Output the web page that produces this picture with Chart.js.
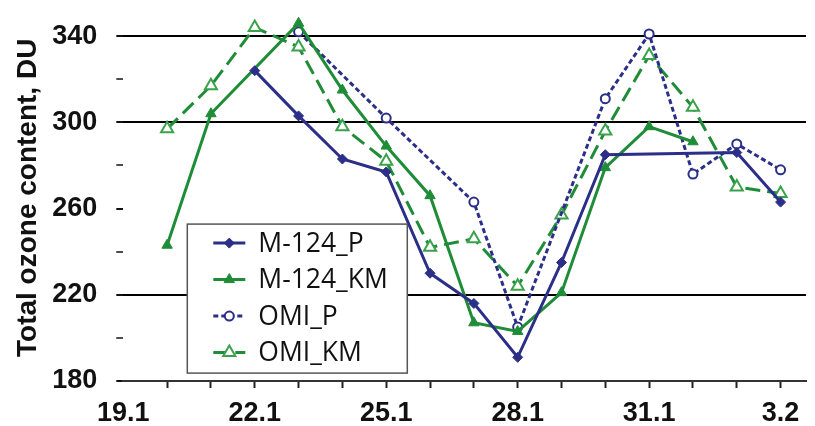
<!DOCTYPE html>
<html lang="en">
<head>
<meta charset="UTF-8">
<title>Total ozone content</title>
<script src="https://cdn.jsdelivr.net/npm/chart.js@4.4.1/dist/chart.umd.min.js"></script>
<style>
  html, body { margin: 0; padding: 0; background: #fff; }
  #wrap { width: 815px; height: 426px; }
</style>
</head>
<body>
<div id="wrap"><canvas id="myChart"></canvas></div>
<script>
// days on the x axis, values in DU (null = no measurement)
const days   = ['19.1','20.1','21.1','22.1','23.1','24.1','25.1','26.1','27.1','28.1','29.1','30.1','31.1','1.2','2.2','3.2'];
const m124P  = [null, null, null, 324, 303, 283, 277, 230, 216, 191, 235, 285, null, null, 286, 263];
const m124KM = [null, 243, 304, null, 346, 315, 289, 266, 207, 203, 221, 279, 298, 291, null, null];
const omiP   = [null, null, null, null, 342, null, 302, null, 263, 205, null, 311, 341, 276, 290, 278];
const omiKM  = [null, 297, 317, 344, 335, 298, 282, 242, 246, 224, 257, 296, 331, 307, 270, 267];
const yLabels = [180, 220, 260, 300, 340];
const yGridLines = [220, 300, 340];
const xLabelEvery = 3;

const navy = '#2b2f88';
const green = '#1f8c37';
const tickFont = { family: "'Liberation Sans', Arial, sans-serif", size: 27, weight: 'bold' };

function pts(arr) {
    return arr.map((v, i) => ({ x: i, y: v }));
}

// legend drawn as a white box inside the plot
const boxLegend = {
    id: 'boxLegend',
    afterDatasetsDraw(chart) {
        const ctx = chart.ctx;
        const a = chart.chartArea;
        const x0 = a.left + 64, y0 = a.top + 209.5, w = 220, h = 149;
        ctx.save();
        ctx.fillStyle = '#fff';
        ctx.fillRect(x0, y0, w, h);
        ctx.strokeStyle = '#555';
        ctx.lineWidth = 1.5;
        ctx.strokeRect(x0, y0, w, h);
        chart.data.datasets.forEach((ds, i) => {
            const y = y0 + 19 + i * 36.5;
            ctx.setLineDash(ds.borderDash || []);
            ctx.strokeStyle = ds.borderColor;
            ctx.lineWidth = ds.borderWidth;
            ctx.beginPath();
            ctx.moveTo(x0 + 26, y);
            ctx.lineTo(x0 + 58, y);
            ctx.stroke();
            ctx.setLineDash([]);
            ctx.fillStyle = ds.pointBackgroundColor;
            ctx.strokeStyle = ds.pointBorderColor;
            ctx.lineWidth = ds.pointBorderWidth;
            Chart.helpers.drawPoint(ctx, {
                pointStyle: ds.pointStyle,
                radius: ds.pointRadius,
                rotation: 0,
                borderWidth: ds.pointBorderWidth
            }, x0 + 42, y);
            ctx.fillStyle = '#111';
            ctx.font = "26.5px 'Open Sans', sans-serif";
            ctx.textBaseline = 'middle';
            ctx.fillText(ds.label, x0 + 71, y + 1);
        });
        ctx.restore();
    }
};

let ctx = document.getElementById('myChart').getContext('2d');
let myChart = new Chart(ctx, {
    type: 'line',
    data: {
        datasets: [{
            label: 'M-124_P',
            data: pts(m124P),
            borderColor: navy,
            borderWidth: 3,
            pointStyle: 'rectRot',
            pointRadius: 5,
            pointBackgroundColor: navy,
            pointBorderColor: navy,
            pointBorderWidth: 1
        }, {
            label: 'M-124_KM',
            data: pts(m124KM),
            borderColor: green,
            borderWidth: 3,
            pointStyle: 'triangle',
            pointRadius: 6,
            pointBackgroundColor: green,
            pointBorderColor: green,
            pointBorderWidth: 1
        }, {
            label: 'OMI_P',
            data: pts(omiP),
            borderColor: navy,
            borderWidth: 3,
            borderDash: [5, 3],
            pointStyle: 'circle',
            pointRadius: 4.5,
            pointBackgroundColor: '#fff',
            pointBorderColor: navy,
            pointBorderWidth: 2
        }, {
            label: 'OMI_KM',
            data: pts(omiKM),
            borderColor: green,
            borderWidth: 3,
            borderDash: [15, 7],
            pointStyle: 'triangle',
            pointRadius: 7,
            pointBackgroundColor: '#fff',
            pointBorderColor: '#3aa24d',
            pointBorderWidth: 2
        }]
    },
    options: {
        responsive: true,
        maintainAspectRatio: false,
        animation: false,
        spanGaps: true,
        layout: { padding: { top: 14.6, right: 0, left: 0, bottom: 0 } },
        plugins: {
            legend: { display: false },
            tooltip: { enabled: false }
        },
        scales: {
            x: {
                type: 'linear',
                min: 0,
                max: 15.58,
                afterFit: s => { s.height = 45; s.paddingLeft = 0; s.paddingRight = 0; },
                border: { display: true, color: '#333', width: 2 },
                grid: {
                    drawOnChartArea: false,
                    drawTicks: true,
                    tickLength: 7,
                    tickWidth: 2,
                    tickColor: c => (c.tick && c.tick.value === 0 ? 'transparent' : '#222')
                },
                ticks: {
                    stepSize: 1,
                    includeBounds: false,
                    autoSkip: false,
                    maxRotation: 0,
                    padding: 9,
                    color: '#111',
                    font: tickFont,
                    callback: v => (v % xLabelEvery === 0 ? days[v] : '')
                }
            },
            y: {
                min: 180,
                max: 350,
                afterFit: s => { s.width = 123.3; s.paddingTop = 0; s.paddingBottom = 0; },
                border: { display: false },
                grid: {
                    drawTicks: true,
                    tickLength: 7,
                    color: c => (yGridLines.includes(c.tick.value) ? '#000' : 'transparent'),
                    lineWidth: 2,
                    tickColor: '#111',
                    tickWidth: c => (yLabels.includes(c.tick.value) ? 2 : 1.5)
                },
                ticks: {
                    stepSize: 10,
                    padding: 19,
                    color: '#111',
                    font: tickFont,
                    callback: v => (yLabels.includes(v) ? String(v) : '')
                },
                title: {
                    display: true,
                    text: 'Total ozone content, DU',
                    color: '#111',
                    padding: { top: 11, bottom: 0 },
                    font: { family: "'Liberation Sans', Arial, sans-serif", size: 28, weight: 'bold' }
                }
            }
        }
    },
    plugins: [boxLegend]
});
</script>
</body>
</html>
